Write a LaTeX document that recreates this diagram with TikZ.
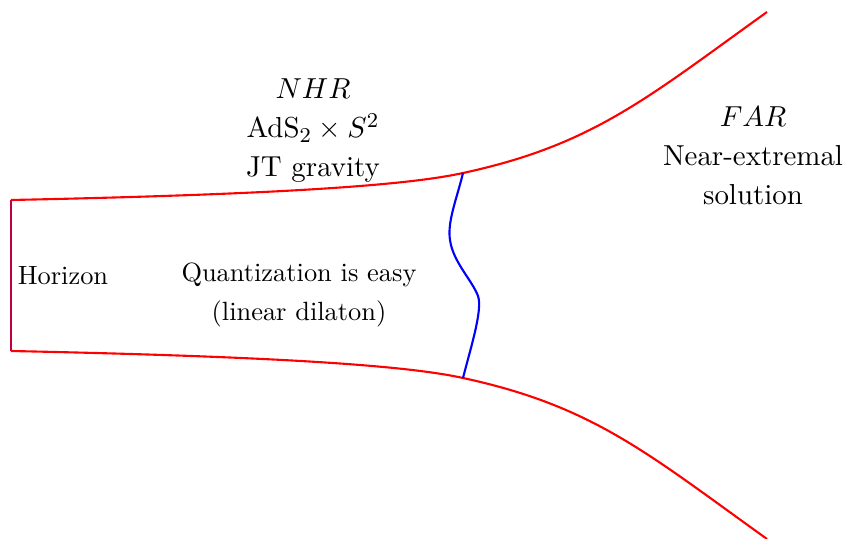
\documentclass[tikz,border=0pt]{standalone}

\begin{document}
\begin{tikzpicture}[x=0.3788pt, y=-0.3788pt, thick]
\tikzset{
	wall/.style={red},
	cutoff/.style={blue},
	bigtext/.style={align=center, font=\fontsize{10.95}{14.8}\selectfont},
	smalltext/.style={align=center, font=\fontsize{10}{14.8}\selectfont}
}
\useasboundingbox (0,0) rectangle (843,538);

% end points of the throat
\coordinate (hu) at (11,200);
\coordinate (hd) at (11,351);
\coordinate (ju) at (463,173);
\coordinate (jd) at (463,378);
\coordinate (eu) at (767,12);
\coordinate (ed) at (767,539);

\draw[purple] (hu) -- (hd);
\draw[wall] (hu) .. controls (250,195) and (400,187) .. (ju)
	.. controls (593,145) and (647,98) .. (eu);
\draw[wall] (hd) .. controls (250,356) and (400,364) .. (jd)
	.. controls (593,406) and (647,453) .. (ed);

% boundary between the regions
\draw[cutoff] (ju) .. controls (457,198) and (447,222) .. (450,240)
	.. controls (453,262) and (472,280) .. (478,296)
	.. controls (483,310) and (470,350) .. (jd);

\node[bigtext] (nhr) at (313,131) {$NHR$\\ AdS$_2\times S^2$\\ JT gravity};
\node[bigtext] (far) at (753,156) {$FAR$\\ Near-extremal\\ solution};
\node[smalltext] (quant) at (299,295) {Quantization is easy\\ (linear dilaton)};
\node[smalltext] (horizon) at (63,276) {Horizon};

\end{tikzpicture}
\end{document}
